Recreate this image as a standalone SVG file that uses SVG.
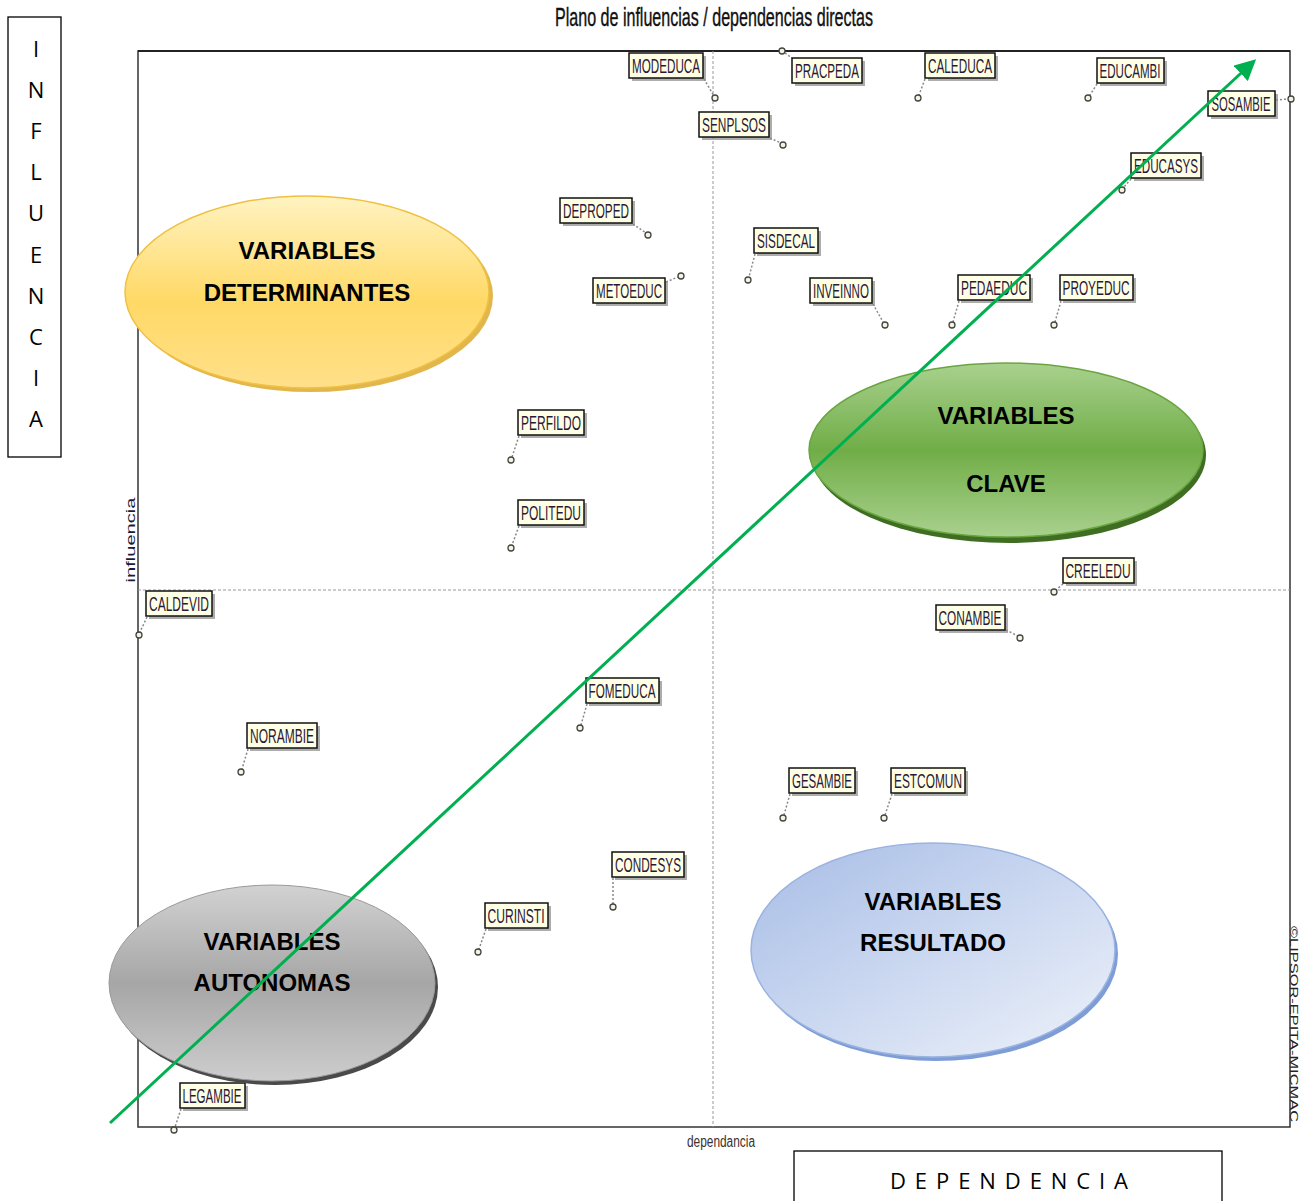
<svg xmlns="http://www.w3.org/2000/svg" width="1299" height="1201" viewBox="0 0 1299 1201">
<style>
.lbl rect.b{fill:#ffffe6;stroke:#111;stroke-width:1.5}
.lbl rect.s{fill:#8a8a8a;opacity:0.7}
.lbl text{font-family:"Liberation Sans",Arial,sans-serif;font-size:20px;fill:#2a1838;text-anchor:middle}
.lbl line{stroke:#888;stroke-width:1.5;stroke-dasharray:2 2}
.lbl circle{fill:#f4f4e0;stroke:#444;stroke-width:1.3}
.big{font-family:"Liberation Sans",Arial,sans-serif;font-weight:bold;font-size:24px;fill:#000;text-anchor:middle}
.side{font-family:"Open Sans","Liberation Sans",sans-serif;font-size:22px;fill:#000;text-anchor:middle}
</style>
<defs>
<linearGradient id="gY" x1="0" y1="0" x2="0" y2="1">
<stop offset="0" stop-color="#fff3c2"/><stop offset="0.55" stop-color="#ffd966"/><stop offset="1" stop-color="#ffe08a"/>
</linearGradient>
<linearGradient id="gG" x1="0" y1="0" x2="0" y2="1">
<stop offset="0" stop-color="#a9d18e"/><stop offset="0.5" stop-color="#70ad47"/><stop offset="1" stop-color="#a9d18e"/>
</linearGradient>
<linearGradient id="gB" x1="0" y1="0" x2="1" y2="1">
<stop offset="0" stop-color="#a7bde6"/><stop offset="1" stop-color="#eef2fa"/>
</linearGradient>
<linearGradient id="gA" x1="0" y1="0" x2="0" y2="1">
<stop offset="0" stop-color="#d2d2d2"/><stop offset="0.5" stop-color="#a6a6a6"/><stop offset="1" stop-color="#cdcdcd"/>
</linearGradient>
<marker id="ah" viewBox="0 0 10 10" refX="8" refY="5" markerWidth="7" markerHeight="7" orient="auto" markerUnits="strokeWidth">
<path d="M0,0 L10,5 L0,10 z" fill="#00b050"/>
</marker>
</defs>
<rect width="1299" height="1201" fill="#fff"/>

<text x="714" y="26" font-family="Liberation Sans,Arial,sans-serif" font-size="26" fill="#111" stroke="#111" stroke-width="0.4" text-anchor="middle" textLength="318" lengthAdjust="spacingAndGlyphs">Plano de influencias / dependencias directas</text>

<g id="frame">
<rect x="138" y="51" width="1152" height="1076" fill="none" stroke="#333" stroke-width="1.5"/>
<line x1="138" y1="51" x2="1290" y2="51" stroke="#222" stroke-width="2"/>
<line x1="713" y1="51" x2="713" y2="1127" stroke="#999" stroke-width="1" stroke-dasharray="3 2"/>
<line x1="138" y1="590" x2="1290" y2="590" stroke="#999" stroke-width="1" stroke-dasharray="3 2"/>
<text transform="translate(135,540) rotate(-90)" font-family="Liberation Sans,Arial,sans-serif" font-size="13" fill="#1a1a3a" text-anchor="middle" textLength="85" lengthAdjust="spacingAndGlyphs">influencia</text>
<text x="721" y="1147" font-family="Liberation Sans,Arial,sans-serif" font-size="16" fill="#3a3030" text-anchor="middle" textLength="68" lengthAdjust="spacingAndGlyphs">dependancia</text>
<text transform="translate(1290,1024) rotate(90)" font-family="Liberation Sans,Arial,sans-serif" font-size="11" fill="#222" text-anchor="middle" textLength="196" lengthAdjust="spacingAndGlyphs">©LIPSOR-EPITA-MICMAC</text>
</g>

<g id="influencia-box">
<rect x="8" y="17" width="53" height="440" fill="#fff" stroke="#000" stroke-width="1.3"/>
<text class="side" x="36" y="57">I</text>
<text class="side" x="36" y="98">N</text>
<text class="side" x="36" y="139">F</text>
<text class="side" x="36" y="180">L</text>
<text class="side" x="36" y="221">U</text>
<text class="side" x="36" y="263">E</text>
<text class="side" x="36" y="304">N</text>
<text class="side" x="36" y="345">C</text>
<text class="side" x="36" y="386">I</text>
<text class="side" x="36" y="427">A</text>
</g>

<g id="dependencia-box">
<rect x="794" y="1151" width="428" height="52" fill="#fff" stroke="#000" stroke-width="1.3"/>
<text class="side" x="1009" y="1189" textLength="238">DEPENDENCIA</text>
</g>

<g id="MODEDUCA" class="lbl"><line x1="704" y1="79" x2="714" y2="96"/><circle cx="715" cy="98" r="3"/><rect class="s" x="632" y="56" width="74" height="25"/><rect class="b" x="629" y="53" width="74" height="25"/><text x="666" y="73" textLength="68" lengthAdjust="spacingAndGlyphs">MODEDUCA</text></g>
<g id="PRACPEDA" class="lbl"><line x1="785" y1="53" x2="792" y2="58"/><circle cx="782" cy="51" r="3"/><rect class="s" x="795" y="61" width="70" height="25"/><rect class="b" x="792" y="58" width="70" height="25"/><text x="827" y="78" textLength="64" lengthAdjust="spacingAndGlyphs">PRACPEDA</text></g>
<g id="CALEDUCA" class="lbl"><line x1="925" y1="79" x2="919" y2="95"/><circle cx="918" cy="98" r="3"/><rect class="s" x="928" y="56" width="70" height="25"/><rect class="b" x="925" y="53" width="70" height="25"/><text x="960" y="73" textLength="64" lengthAdjust="spacingAndGlyphs">CALEDUCA</text></g>
<g id="EDUCAMBI" class="lbl"><line x1="1097" y1="84" x2="1090" y2="95"/><circle cx="1088" cy="98" r="3"/><rect class="s" x="1100" y="61" width="67" height="25"/><rect class="b" x="1097" y="58" width="67" height="25"/><text x="1130" y="78" textLength="61" lengthAdjust="spacingAndGlyphs">EDUCAMBI</text></g>
<g id="SOSAMBIE" class="lbl"><line x1="1276" y1="100" x2="1288" y2="99"/><circle cx="1291" cy="99" r="3"/><rect class="s" x="1211" y="94" width="67" height="25"/><rect class="b" x="1208" y="91" width="67" height="25"/><text x="1241" y="111" textLength="59" lengthAdjust="spacingAndGlyphs">SOSAMBIE</text></g>
<g id="SENPLSOS" class="lbl"><line x1="770" y1="138" x2="781" y2="143"/><circle cx="783" cy="145" r="3"/><rect class="s" x="702" y="115" width="70" height="25"/><rect class="b" x="699" y="112" width="70" height="25"/><text x="734" y="132" textLength="64" lengthAdjust="spacingAndGlyphs">SENPLSOS</text></g>
<g id="EDUCASYS" class="lbl"><line x1="1131" y1="179" x2="1124" y2="187"/><circle cx="1122" cy="190" r="3"/><rect class="s" x="1134" y="156" width="70" height="25"/><rect class="b" x="1131" y="153" width="70" height="25"/><text x="1166" y="173" textLength="64" lengthAdjust="spacingAndGlyphs">EDUCASYS</text></g>
<g id="DEPROPED" class="lbl"><line x1="633" y1="224" x2="646" y2="233"/><circle cx="648" cy="235" r="3"/><rect class="s" x="563" y="201" width="72" height="25"/><rect class="b" x="560" y="198" width="72" height="25"/><text x="596" y="218" textLength="66" lengthAdjust="spacingAndGlyphs">DEPROPED</text></g>
<g id="SISDECAL" class="lbl"><line x1="755" y1="254" x2="749" y2="277"/><circle cx="748" cy="280" r="3"/><rect class="s" x="757" y="231" width="64" height="25"/><rect class="b" x="754" y="228" width="64" height="25"/><text x="786" y="248" textLength="58" lengthAdjust="spacingAndGlyphs">SISDECAL</text></g>
<g id="METOEDUC" class="lbl"><line x1="666" y1="282" x2="678" y2="277"/><circle cx="681" cy="276" r="3"/><rect class="s" x="596" y="281" width="72" height="25"/><rect class="b" x="593" y="278" width="72" height="25"/><text x="629" y="298" textLength="66" lengthAdjust="spacingAndGlyphs">METOEDUC</text></g>
<g id="INVEINNO" class="lbl"><line x1="873" y1="304" x2="883" y2="322"/><circle cx="885" cy="325" r="3"/><rect class="s" x="813" y="281" width="62" height="25"/><rect class="b" x="810" y="278" width="62" height="25"/><text x="841" y="298" textLength="56" lengthAdjust="spacingAndGlyphs">INVEINNO</text></g>
<g id="PEDAEDUC" class="lbl"><line x1="959" y1="301" x2="953" y2="322"/><circle cx="952" cy="325" r="3"/><rect class="s" x="961" y="278" width="72" height="25"/><rect class="b" x="958" y="275" width="72" height="25"/><text x="994" y="295" textLength="66" lengthAdjust="spacingAndGlyphs">PEDAEDUC</text></g>
<g id="PROYEDUC" class="lbl"><line x1="1061" y1="301" x2="1055" y2="322"/><circle cx="1054" cy="325" r="3"/><rect class="s" x="1063" y="278" width="73" height="25"/><rect class="b" x="1060" y="275" width="73" height="25"/><text x="1096" y="295" textLength="67" lengthAdjust="spacingAndGlyphs">PROYEDUC</text></g>
<g id="PERFILDO" class="lbl"><line x1="519" y1="436" x2="512" y2="457"/><circle cx="511" cy="460" r="3"/><rect class="s" x="521" y="413" width="66" height="25"/><rect class="b" x="518" y="410" width="66" height="25"/><text x="551" y="430" textLength="60" lengthAdjust="spacingAndGlyphs">PERFILDO</text></g>
<g id="POLITEDU" class="lbl"><line x1="519" y1="526" x2="512" y2="545"/><circle cx="511" cy="548" r="3"/><rect class="s" x="521" y="503" width="66" height="25"/><rect class="b" x="518" y="500" width="66" height="25"/><text x="551" y="520" textLength="60" lengthAdjust="spacingAndGlyphs">POLITEDU</text></g>
<g id="CREELEDU" class="lbl"><line x1="1063" y1="584" x2="1056" y2="590"/><circle cx="1054" cy="592" r="3"/><rect class="s" x="1066" y="561" width="71" height="25"/><rect class="b" x="1063" y="558" width="71" height="25"/><text x="1098" y="578" textLength="65" lengthAdjust="spacingAndGlyphs">CREELEDU</text></g>
<g id="CALDEVID" class="lbl"><line x1="147" y1="617" x2="140" y2="632"/><circle cx="139" cy="635" r="3"/><rect class="s" x="149" y="594" width="66" height="25"/><rect class="b" x="146" y="591" width="66" height="25"/><text x="179" y="611" textLength="60" lengthAdjust="spacingAndGlyphs">CALDEVID</text></g>
<g id="CONAMBIE" class="lbl"><line x1="1006" y1="630" x2="1018" y2="636"/><circle cx="1020" cy="638" r="3"/><rect class="s" x="939" y="608" width="69" height="25"/><rect class="b" x="936" y="605" width="69" height="25"/><text x="970" y="625" textLength="63" lengthAdjust="spacingAndGlyphs">CONAMBIE</text></g>
<g id="FOMEDUCA" class="lbl"><line x1="587" y1="704" x2="581" y2="725"/><circle cx="580" cy="728" r="3"/><rect class="s" x="589" y="681" width="73" height="25"/><rect class="b" x="586" y="678" width="73" height="25"/><text x="622" y="698" textLength="67" lengthAdjust="spacingAndGlyphs">FOMEDUCA</text></g>
<g id="NORAMBIE" class="lbl"><line x1="248" y1="749" x2="242" y2="769"/><circle cx="241" cy="772" r="3"/><rect class="s" x="250" y="726" width="70" height="25"/><rect class="b" x="247" y="723" width="70" height="25"/><text x="282" y="743" textLength="64" lengthAdjust="spacingAndGlyphs">NORAMBIE</text></g>
<g id="GESAMBIE" class="lbl"><line x1="790" y1="794" x2="784" y2="815"/><circle cx="783" cy="818" r="3"/><rect class="s" x="792" y="771" width="66" height="25"/><rect class="b" x="789" y="768" width="66" height="25"/><text x="822" y="788" textLength="60" lengthAdjust="spacingAndGlyphs">GESAMBIE</text></g>
<g id="ESTCOMUN" class="lbl"><line x1="892" y1="794" x2="885" y2="815"/><circle cx="884" cy="818" r="3"/><rect class="s" x="894" y="771" width="74" height="25"/><rect class="b" x="891" y="768" width="74" height="25"/><text x="928" y="788" textLength="68" lengthAdjust="spacingAndGlyphs">ESTCOMUN</text></g>
<g id="CONDESYS" class="lbl"><line x1="613" y1="878" x2="613" y2="904"/><circle cx="613" cy="907" r="3"/><rect class="s" x="615" y="855" width="72" height="25"/><rect class="b" x="612" y="852" width="72" height="25"/><text x="648" y="872" textLength="66" lengthAdjust="spacingAndGlyphs">CONDESYS</text></g>
<g id="CURINSTI" class="lbl"><line x1="486" y1="929" x2="479" y2="949"/><circle cx="478" cy="952" r="3"/><rect class="s" x="488" y="906" width="63" height="25"/><rect class="b" x="485" y="903" width="63" height="25"/><text x="516" y="923" textLength="57" lengthAdjust="spacingAndGlyphs">CURINSTI</text></g>
<g id="LEGAMBIE" class="lbl"><line x1="181" y1="1109" x2="175" y2="1127"/><circle cx="174" cy="1130" r="3"/><rect class="s" x="183" y="1086" width="65" height="25"/><rect class="b" x="180" y="1083" width="65" height="25"/><text x="212" y="1103" textLength="59" lengthAdjust="spacingAndGlyphs">LEGAMBIE</text></g>

<g id="determinantes">
<ellipse cx="311" cy="296" rx="182" ry="96" fill="#d9a520" opacity="0.8"/>
<ellipse cx="307" cy="292" rx="182" ry="96" fill="url(#gY)" stroke="#f0c040" stroke-width="1.5"/>
<text class="big" x="307" y="259">VARIABLES</text>
<text class="big" x="307" y="301">DETERMINANTES</text>
</g>
<g id="clave">
<ellipse cx="1009" cy="455" rx="197" ry="88" fill="#3f6e22"/>
<ellipse cx="1006" cy="450" rx="197" ry="87" fill="url(#gG)" stroke="#6aa640" stroke-width="1.5"/>
<text class="big" x="1006" y="424">VARIABLES</text>
<text class="big" x="1006" y="492">CLAVE</text>
</g>
<g id="resultado">
<ellipse cx="936" cy="954" rx="182" ry="107" fill="#7e9dd6"/>
<ellipse cx="933" cy="950" rx="182" ry="107" fill="url(#gB)" stroke="#9bb3e0" stroke-width="1.5"/>
<text class="big" x="933" y="910">VARIABLES</text>
<text class="big" x="933" y="951">RESULTADO</text>
</g>
<g id="autonomas">
<ellipse cx="275" cy="987" rx="163" ry="98" fill="#4a4a4a"/>
<ellipse cx="272" cy="983" rx="163" ry="98" fill="url(#gA)" stroke="#9a9a9a" stroke-width="1"/>
<text class="big" x="272" y="950">VARIABLES</text>
<text class="big" x="272" y="991">AUTONOMAS</text>
</g>

<g id="connectors">
<line x1="110" y1="1123" x2="1253" y2="62" stroke="#00b050" stroke-width="3" marker-end="url(#ah)"/>
</g>
</svg>
